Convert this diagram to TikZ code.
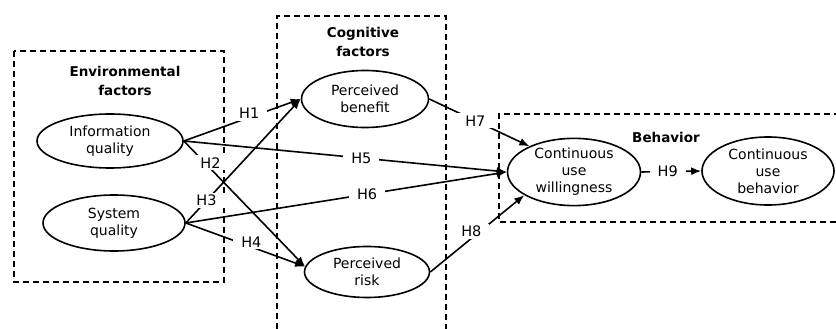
\documentclass[tikz,border=0pt]{standalone}
\usepackage{fontspec}
\setmainfont{DejaVu Sans}
\usetikzlibrary{shapes.geometric,arrows.meta}
\begin{document}
\begin{tikzpicture}[>={Latex[length=10pt,width=8pt]},x=1pt,y=1pt,
	grp/.style={line width=1.5pt,dash pattern=on 6pt off 4pt},
	ttl/.style={align=center,font=\fontsize{13.5}{19}\selectfont\bfseries},
	var/.style={draw,ellipse,line width=1.6pt,inner sep=0pt,align=center,font=\fontsize{14}{17}\selectfont},
	hyp/.style={fill=white,inner xsep=8pt,inner ysep=2pt,font=\fontsize{14.5}{17}\selectfont},
	link/.style={->,line width=1.6pt}]
			\useasboundingbox (0,0) rectangle (836,329);
			\draw[grp] (14,278) rectangle (224,47);
			\draw[grp] (277,0) -- (277,313) -- (446,313) -- (446,0);
			\draw[grp] (840,215) -- (499,215) -- (499,107) -- (840,107);
			\node[ttl] (envt) at (125,248) {Environmental\\factors};
			\node[ttl] (cogt) at (363,287) {Cognitive\\factors};
			\node[ttl] (beht) at (666,192) {Behavior};
			\node[var,minimum width=146pt,minimum height=54pt] (iq) at (110,188) {Information\\quality};
			\node[var,minimum width=142pt,minimum height=56pt] (sq) at (114,106) {System\\quality};
			\node[var,minimum width=127pt,minimum height=57pt] (pb) at (365,230) {Perceived\\benefit};
			\node[var,minimum width=125pt,minimum height=51pt] (pr) at (367,57) {Perceived\\risk};
			\node[var,minimum width=133pt,minimum height=62pt] (cuw) at (574,157) {Continuous\\use\\willingness};
			\node[var,minimum width=132pt,minimum height=68pt] (cub) at (768,158) {Continuous\\use\\behavior};
			\draw[link] (iq.east) -- node[hyp,pos=0.56,yshift=4pt] {H1} (pb.west);
			\draw[link] (iq.east) -- node[hyp,pos=0.55] {H5} (cuw.west);
			\draw[link] (sq.east) -- node[hyp,pos=0.565] {H6} (cuw.west);
			\draw[link] (iq.east) -- node[hyp,pos=0.22,yshift=6pt] {H2} (pr.175);
			\draw[link] (sq.east) -- node[hyp,pos=0.18] {H3} (pb.west);
			\draw[link] (sq.east) -- node[hyp,pos=0.55,yshift=5pt] {H4} (pr.175);
			\draw[link] (pb.east) -- node[hyp,pos=0.46] {H7} (cuw.150);
			\draw[link] (pr.east) -- node[hyp,pos=0.48,xshift=-4pt,yshift=4pt] {H8} (cuw.205);
			\draw[link] (cuw.east) -- node[hyp,pos=0.44] {H9} (cub.west);
		\end{tikzpicture}
\end{document}
